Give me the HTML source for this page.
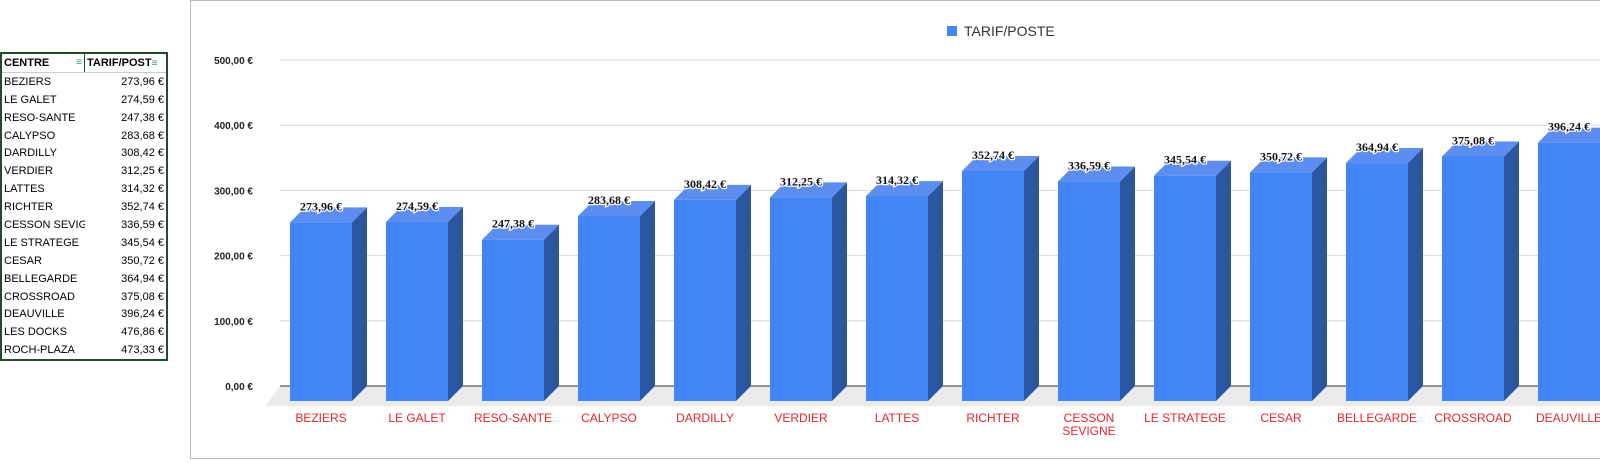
<!DOCTYPE html>
<html><head><meta charset="utf-8"><style>
body{margin:0;width:1600px;height:463px;background:#fff;overflow:hidden;position:relative;font-family:"Liberation Sans",sans-serif}
table{position:absolute;left:0;top:52px;border-collapse:collapse;border:2px solid #1e4d2b;font-size:11px;width:168px}
td,th{height:17.9px;padding:0 2px;white-space:nowrap;overflow:hidden}
th{text-align:left;font-weight:bold;border-bottom:1px solid #ccc}
td.v{text-align:right}
.c1{width:78px;max-width:78px}
th.c1{border-right:1px solid #1e4d2b}
.ic{color:#3a9a5a;font-weight:normal;font-size:10px}
</style></head><body>
<table>
<thead><tr><th class="c1">CENTRE <span class="ic" style="float:right">≡</span></th><th>TARIF/POST<span class="ic">≡</span></th></tr></thead>
<tbody id="tb"></tbody></table>
<svg id="ch" width="1600" height="463" style="position:absolute;left:0;top:0"></svg>
<script>
const tableNames=["BEZIERS","LE GALET","RESO-SANTE","CALYPSO","DARDILLY","VERDIER","LATTES","RICHTER","CESSON SEVIG","LE STRATEGE","CESAR","BELLEGARDE","CROSSROAD","DEAUVILLE","LES DOCKS","ROCH-PLAZA"];
const tableValues=["273,96 €","274,59 €","247,38 €","283,68 €","308,42 €","312,25 €","314,32 €","352,74 €","336,59 €","345,54 €","350,72 €","364,94 €","375,08 €","396,24 €","476,86 €","473,33 €"];
const categories=["BEZIERS","LE GALET","RESO-SANTE","CALYPSO","DARDILLY","VERDIER","LATTES","RICHTER","CESSON|SEVIGNE","LE STRATEGE","CESAR","BELLEGARDE","CROSSROAD","DEAUVILLE","LES DOCKS","ROCH-PLAZA"];
const values=[273.96,274.59,247.38,283.68,308.42,312.25,314.32,352.74,336.59,345.54,350.72,364.94,375.08,396.24,476.86,473.33];
const yTicks=[0,100,200,300,400,500];
const yTickLabels=["0,00 €","100,00 €","200,00 €","300,00 €","400,00 €","500,00 €"];

const tb=document.getElementById('tb');
tableNames.forEach((n,i)=>{const tr=document.createElement('tr');


tr.innerHTML='<td class="c1">'+n+'</td><td class="v">'+tableValues[i]+'</td>';tb.appendChild(tr);});

const NS="http://www.w3.org/2000/svg",svg=document.getElementById('ch');
function el(t,a,p){const e=document.createElementNS(NS,t);for(const k in a)e.setAttribute(k,a[k]);(p||svg).appendChild(e);return e;}
const y0=386,sc=0.652,D=15,x0=290,step=96,bw=62;
const Y=v=>y0-v*sc, X=i=>x0+i*step;
const fr=el('rect',{x:190.5,y:0.5,width:1420,height:458,fill:'#fff',stroke:'#bbb'});


const fl=el('polygon',{points:`280,${y0} 1600,${y0} 1600,${y0+20} 265,${y0+20}`,fill:'#ebebeb'});


yTicks.forEach((t,i)=>{
 const g=el('line',{x1:280,x2:1600,y1:Y(t),y2:Y(t),stroke:t==0?'#333':'#d9d9d9','stroke-width':1});
 
 
 const l=el('text',{x:253,y:Y(t)+4,'text-anchor':'end','font-size':10,'font-weight':'bold',fill:'#222'});
 l.textContent=yTickLabels[i];
 
 
});
values.forEach((v,i)=>{
 const x=X(i),top=Y(v)+D,bot=y0+D;
 const g=el('g',{});
 
 
 el('polygon',{points:`${x+bw},${top} ${x+bw+D},${top-D} ${x+bw+D},${bot-D} ${x+bw},${bot}`,fill:'#2c56a0'},g);
 el('polygon',{points:`${x},${top} ${x+D},${top-D} ${x+bw+D},${top-D} ${x+bw},${top}`,fill:'#5b8ef0'},g);
 el('rect',{x:x,y:top,width:bw,height:bot-top,fill:'#4285f4'},g);
 const t=el('text',{x:x+bw/2,y:top-D+3,'text-anchor':'middle','font-size':12,'font-weight':'bold','font-family':'Liberation Serif,serif',fill:'#111',stroke:'#fff','stroke-width':2.5,'paint-order':'stroke'});
 t.textContent=v.toFixed(2).replace('.',',')+' €';
 
 
 const lines=categories[i].split('|');
 lines.forEach((s,j)=>{const c=el('text',{x:x+bw/2,y:422+j*13,'text-anchor':'middle','font-size':12,fill:'#e8242a'});
 c.textContent=s;
 
 });
});
const lg=el('rect',{x:947,y:26,width:10,height:10,fill:'#4285f4'});


const lt=el('text',{x:964,y:36,'font-size':14,fill:'#333'});
lt.textContent='TARIF/POSTE';


</script>
</body></html>
